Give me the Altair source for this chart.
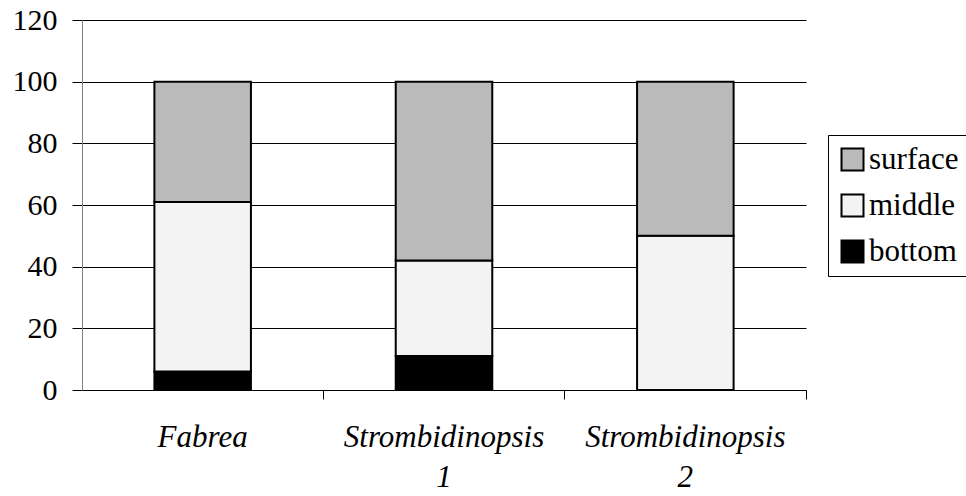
import altair as alt
import pandas as pd

# Percentage of each ciliate group found at each depth layer
species = ["Fabrea", "Strombidinopsis 1", "Strombidinopsis 2"]
layers = ["surface", "middle", "bottom"]
bottom = [6, 11, 0]
middle = [55, 31, 50]
surface = [39, 58, 50]

stack_rank = {"bottom": 0, "middle": 1, "surface": 2}
rows = []
for i, sp in enumerate(species):
    for layer, vals in (("bottom", bottom), ("middle", middle), ("surface", surface)):
        rows.append({"species": sp, "layer": layer, "pct": vals[i], "rank": stack_rank[layer]})
df = pd.DataFrame(rows)

FONT = "Liberation Serif"
x_scale = alt.Scale(type="band", paddingInner=0, paddingOuter=0)

bars = alt.Chart(df).mark_bar(
    width=alt.RelativeBandSize(0.4), stroke="black", strokeWidth=2
).encode(
    x=alt.X("species:N", sort=species, scale=x_scale, title=None,
            axis=alt.Axis(orient="bottom", labelAngle=0, ticks=False, domain=True,
                          domainColor="black", domainWidth=1, labelFont=FONT,
                          labelFontSize=31, labelFontStyle="italic", labelColor="black",
                          labelExpr="split(datum.label, ' ')", labelLineHeight=40,
                          labelPadding=32, labelBaseline="top", labelLimit=0, grid=False)),
    y=alt.Y("pct:Q", stack="zero", title=None,
            scale=alt.Scale(domain=[0, 120], nice=False),
            axis=alt.Axis(values=[0, 20, 40, 60, 80, 100, 120], grid=True,
                          gridColor="black", gridWidth=1, domainColor="#808080",
                          domainWidth=1, tickColor="black", tickSize=10,
                          labelFont=FONT, labelFontSize=30, labelColor="black",
                          labelPadding=15)),
    color=alt.Color("layer:N", title=None,
                    scale=alt.Scale(domain=layers, range=["#bababa", "#f3f3f3", "#000000"]),
                    legend=alt.Legend(orient="none", legendX=746, legendY=115,
                                      symbolType="square", symbolSize=484,
                                      symbolStrokeColor="black", symbolStrokeWidth=2,
                                      symbolOpacity=1, labelFont=FONT, labelFontSize=31,
                                      labelColor="black", labelLimit=0, rowPadding=14,
                                      labelOffset=1, padding=9, strokeColor="black",
                                      fillColor="white")),
    order=alt.Order("rank:Q", sort="ascending"),
)

# Tick marks between the categories on the bottom axis
ticks = alt.Chart(df).mark_point(opacity=0).encode(
    x=alt.X("species:N", sort=species, scale=x_scale, title=None,
            axis=alt.Axis(orient="bottom", bandPosition=1, labels=False, ticks=True,
                          tickSize=9, tickColor="black", domain=False, grid=False)),
)

chart = alt.layer(bars, ticks).resolve_axis(x="independent").properties(
    width=724, height=370,
    autosize=alt.AutoSizeParams(type="none"),
    padding={"left": 82, "top": 20, "right": 160, "bottom": 106},
    background="white",
).configure_view(stroke=None)

chart.save("out.html", embed_options={"renderer": "svg", "actions": False})
